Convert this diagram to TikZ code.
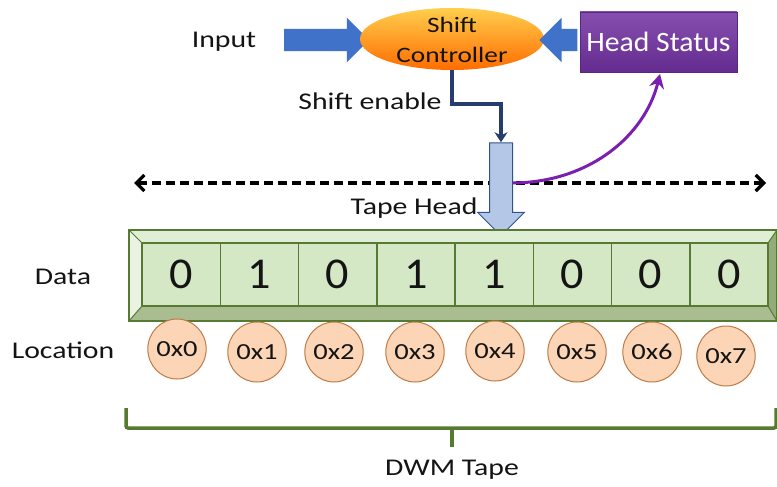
\documentclass[tikz,border=0pt]{standalone}
\usepackage{fontspec}
\setmainfont{Carlito}
\usetikzlibrary{arrows.meta,shapes.geometric,shapes.arrows,calc}
\definecolor{blueA}{HTML}{3F72C8}
\definecolor{navyC}{HTML}{263C6C}
\definecolor{purpB}{HTML}{7030A0}
\definecolor{purpL}{HTML}{7A1FB0}
\definecolor{thFill}{HTML}{B4C7E7}
\definecolor{thDraw}{HTML}{2F528F}
\definecolor{cellF}{HTML}{D5E8C6}
\definecolor{topF}{HTML}{E1EED6}
\definecolor{leftF}{HTML}{EAF3E2}
\definecolor{botF}{HTML}{A9BD91}
\definecolor{rightF}{HTML}{94AC7B}
\definecolor{frameD}{HTML}{567A34}
\definecolor{peachF}{HTML}{FBD5B5}
\definecolor{peachD}{HTML}{C07A45}
\definecolor{brk}{HTML}{557A30}
\definecolor{txt}{HTML}{141414}
\newcommand\hs[1]{\scalebox{1.24}[1]{#1}}
\begin{document}
\begin{tikzpicture}[x=1pt,y=-1pt,
  lbl/.style={text=txt,font=\fontsize{24}{28}\selectfont,inner sep=0},
  blockarrow/.style={single arrow,fill=blueA,draw=none,inner sep=11pt,
     minimum height=83pt,single arrow head extend=11pt,single arrow head indent=0pt},
  cell/.style={draw=frameD,line width=1.5pt,fill=cellF,minimum width=78.25pt,
     minimum height=63pt,inner sep=0,text=txt,font=\fontsize{44}{48}\selectfont},
  loc/.style={ellipse,draw=peachD,line width=1pt,fill=peachF,minimum width=55pt,
     minimum height=60pt,inner sep=0,text=txt,font=\fontsize{23}{26}\selectfont},
]
\useasboundingbox (0,0) rectangle (777,487);

% top controller
\node[lbl] (input) at (224,42) {\hs{Input}};
\node[blockarrow,minimum height=85pt] (inarr) at (321,40) {};
\node[ellipse,minimum width=184pt,minimum height=62pt,inner sep=0,
      top color=orange!55!yellow!70!white,bottom color=orange!85!red,
      shading angle=0] (sc) at (452,39) {};
\node[text=txt,align=center,font=\fontsize{22}{30}\selectfont] at (452,40) {\hs{Shift}\\\hs{Controller}};
\node[rectangle,minimum width=157pt,minimum height=60pt,inner sep=0,
      top color=purpB!85!white,bottom color=purpB!90!black,draw=purpB!80!black] (hs) at (658.5,42)
      {\textcolor{white}{\fontsize{28}{32}\selectfont\scalebox{1.06}[1]{Head Status}}};
\node[blockarrow,shape border rotate=180,minimum height=38pt] (hsarr) at (564,40) {};

% dashed travel line
\coordinate (dl) at (134,183);
\coordinate (dr) at (766,183);
\draw[line width=3.2pt,dash pattern=on 9pt off 5pt,
      {Straight Barb[length=8pt,width=16pt]}-{Straight Barb[length=8pt,width=16pt]}] (dl) -- (dr);

% purple feedback curve
\coordinate (pc) at (511,183);
\draw[purpL,line width=3pt,-{Stealth[length=14pt,width=15pt]}]
  (pc) .. controls (590,183) and (645,135) .. (660,74);

% tape head arrow
\node[single arrow,shape border rotate=270,fill=thFill,draw=thDraw,line width=1pt,
      inner sep=11pt,minimum height=93pt,single arrow head extend=12pt,
      single arrow head indent=0pt] (th) at (501,183.5) {};
\node[lbl] (thl) at (414,208) {\hs{Tape Head}};

% shift enable connector
\node[lbl] (sel) at (370,101) {\hs{Shift enable}};
\draw[navyC,line width=4pt,-{Stealth[length=10pt,width=13pt]}]
  (sc.south) |- ($(th.tail)+(0,-38)$) -- (th.tail);

% tape frame
\fill[topF] (129,230) -- (777,230) -- (768,243) -- (142,243) -- cycle;
\fill[leftF] (129,230) -- (142,243) -- (142,306) -- (129,321) -- cycle;
\fill[botF] (129,321) -- (142,306) -- (768,306) -- (777,321) -- cycle;
\fill[rightF] (777,230) -- (768,243) -- (768,306) -- (777,321) -- cycle;
\draw[frameD,line width=1.5pt] (129,230) rectangle (777,321);
\draw[frameD,line width=1pt] (129,230) -- (142,243) (129,321) -- (142,306)
   (777,230) -- (768,243) (777,321) -- (768,306);
\foreach \d [count=\i from 0] in {0,1,0,1,1,0,0,0}{
  \node[cell] (c\i) at ({142+78.25*\i+39.125},274.5) {\scalebox{1.05}[1]{\d}};
}

% labels
\node[lbl] (data) at (63,277) {\hs{Data}};
\node[lbl] (locl) at (63,350) {\hs{Location}};

% location ellipses
\foreach \x/\y [count=\i from 0] in {177/349,257/352,334/352,415/352,495/351,577/352,652/352,726/356}{
  \pgfmathtruncatemacro\j{\i}
  \node[loc] (l\i) at (\x,\y) {\hs{0x\j}};
}

% bracket
\coordinate (bl) at (126,408);
\coordinate (br) at (776,408);
\coordinate (bm) at (452,428);
\coordinate (bt) at (452,447);
\draw[brk,line width=3.5pt,rounded corners=2pt] (bl) |- (bm) -| (br);
\draw[brk,line width=3.5pt] (bm) -- (bt);
\node[lbl] (dwm) at (452,470) {\hs{DWM Tape}};
\end{tikzpicture}
\end{document}
